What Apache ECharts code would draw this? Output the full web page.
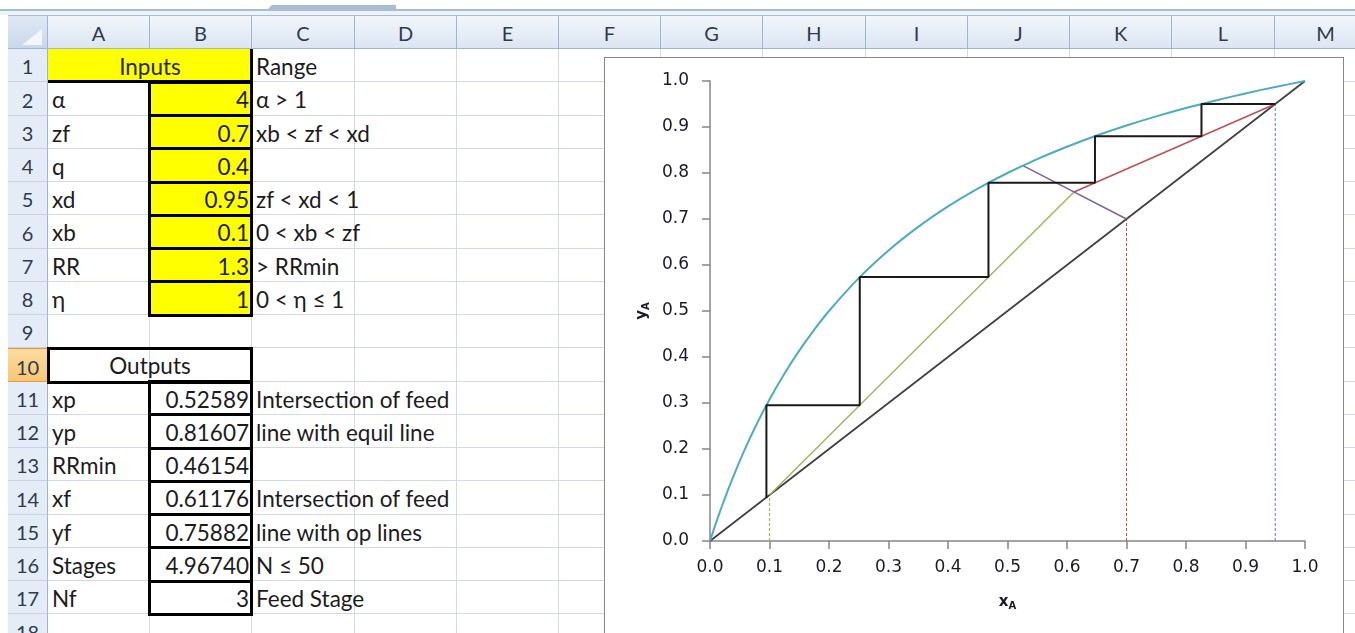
<!DOCTYPE html>
<html><head><meta charset="utf-8">
<script src="https://cdn.jsdelivr.net/npm/echarts@6/dist/echarts.min.js"></script>
<style>
body{margin:0;width:1355px;height:633px;overflow:hidden;background:#fff;position:relative;font-family:Lato,"Noto Sans","DejaVu Sans",sans-serif;}
.abs{position:absolute;box-sizing:border-box;}
.cell{position:absolute;box-sizing:border-box;font-size:22.5px;color:#1c1c1c;white-space:nowrap;line-height:35px;height:33px;}
</style></head><body>
<div id="sheet"></div>
<div class="abs" style="left:604px;top:57px;width:740px;height:640px;border:1px solid #878787;background:#fff;"></div>
<div id="chart" style="position:absolute;left:605px;top:58px;width:738px;height:600px;"></div>
<script>
// ---------- spreadsheet content ----------
const colLetters = ['A','B','C','D','E','F','G','H','I','J','K','L','M'];
const colEdges = [48,150,252,355,457,559,661,763,866,968,1070,1172,1275,1377];
const rowCount = 18;
const labelsA = {2:'α',3:'zf',4:'q',5:'xd',6:'xb',7:'RR',8:'η',11:'xp',12:'yp',13:'RRmin',14:'xf',15:'yf',16:'Stages',17:'Nf'};
const valuesB = {2:'4',3:'0.7',4:'0.4',5:'0.95',6:'0.1',7:'1.3',8:'1',11:'0.52589',12:'0.81607',13:'0.46154',14:'0.61176',15:'0.75882',16:'4.96740',17:'3'};
const notesC = {1:'Range',2:'α > 1',3:'xb < zf < xd',5:'zf < xd < 1',6:'0 < xb < zf',7:'> RRmin',8:'0 < η ≤ 1',11:'Intersection of feed',12:'line with equil line',14:'Intersection of feed',15:'line with op lines',16:'N ≤ 50',17:'Feed Stage'};

// ---------- chart data ----------
const xTickLabels = ['0.0','0.1','0.2','0.3','0.4','0.5','0.6','0.7','0.8','0.9','1.0'];
const yTickLabels = ['0.0','0.1','0.2','0.3','0.4','0.5','0.6','0.7','0.8','0.9','1.0'];
const equilX = [0,0.01,0.02,0.03,0.04,0.06,0.08,0.1,0.125,0.15,0.175,0.2,0.25,0.3,0.35,0.4,0.45,0.5,0.55,0.6,0.65,0.7,0.75,0.8,0.85,0.9,0.95,1];
const equilY = [0,0.0388,0.0755,0.1101,0.1429,0.2034,0.2581,0.3077,0.3636,0.4138,0.4590,0.5,0.5714,0.6316,0.6829,0.7273,0.7660,0.8,0.8302,0.8571,0.8814,0.9032,0.9231,0.9412,0.9577,0.9730,0.9870,1];
const diagX = [0,1];
const diagY = [0,1];
const stairX = [0.95,0.826,0.826,0.647,0.647,0.468,0.468,0.2517,0.2517,0.0948,0.0948];
const stairY = [0.95,0.95,0.880,0.880,0.779,0.779,0.574,0.574,0.295,0.295,0.0933];
const feedX = [0.7,0.52589];
const feedY = [0.7,0.81607];
const stripX = [0.1,0.61176];
const stripY = [0.1,0.75882];
const rectX = [0.61176,0.95];
const rectY = [0.75882,0.95];
const xbDropX = [0.1,0.1];   const xbDropY = [0,0.1];
const zfDropX = [0.7,0.7];   const zfDropY = [0,0.7];
const xdDropX = [0.95,0.95]; const xdDropY = [0,0.95];

// ---------- build sheet ----------
const sheet = document.getElementById('sheet');
const rowTop = n => 49 + (n-1)*33.25;
function add(html){ sheet.insertAdjacentHTML('beforeend', html); }
// top strip
add('<div class="abs" style="left:0;top:9px;width:1355px;height:1.5px;background:#a7bcd7"></div>');
add('<div class="abs" style="left:0;top:10.5px;width:1355px;height:4px;background:#eef3fa"></div>');
add('<div class="abs" style="left:8px;top:14.5px;width:1347px;height:1.5px;background:#a7bcd7"></div>');
add('<div class="abs" style="left:268px;top:5px;width:128px;height:4px;background:#a9bcd6;clip-path:polygon(3% 0,100% 0,100% 100%,0 100%)"></div>');
// gridlines
for(let n=1;n<=rowCount;n++){
  const y = Math.round(rowTop(n+1))-1;
  add(`<div class="abs" style="left:48px;top:${y}px;width:1307px;height:1px;background:#d2d9e6"></div>`);
}
for(let i=1;i<colEdges.length;i++){
  add(`<div class="abs" style="left:${colEdges[i]-1}px;top:49px;width:1px;height:590px;background:#d2d9e6"></div>`);
}
// column headers
add('<div class="abs" style="left:8px;top:16px;width:40px;height:33px;background:linear-gradient(#dfe9f5,#c9d8ec);border-right:1px solid #9eb6ce;border-bottom:1px solid #9eb6ce"></div>');
add('<div class="abs" style="left:22px;top:29px;width:0;height:0;border-left:20px solid transparent;border-bottom:16px solid #f4f6f9"></div>');
colLetters.forEach((c,i)=>{
  const l = colEdges[i], w = colEdges[i+1]-colEdges[i];
  add(`<div class="abs" style="left:${l}px;top:16px;width:${w}px;height:33px;background:linear-gradient(#f2f6fb,#dbe5f2);border-right:1px solid #9eb6ce;border-bottom:1px solid #9eb6ce;text-align:center;font-size:20px;line-height:34px;color:#2f3b4c">${c}</div>`);
});
// row headers
for(let n=1;n<=rowCount;n++){
  const t = Math.round(rowTop(n)), h = Math.round(rowTop(n+1))-t;
  const sel = n===10;
  const bg = sel ? 'linear-gradient(#fbdca0,#f6c673)' : '#e4ecf7';
  const bd = sel ? '#f29536' : '#9eb6ce';
  add(`<div class="abs" style="left:8px;top:${t}px;width:40px;height:${h}px;background:${bg};border-right:1px solid ${bd};border-bottom:1px solid ${sel?'#f29536':'#c5d3e4'};${sel?'border-top:1px solid #f29536;':''}text-align:center;font-size:20px;line-height:${h+2}px;color:#2f3b4c">${n}</div>`);
}
// yellow fills
add(`<div class="abs" style="left:48px;top:49px;width:204px;height:${Math.round(rowTop(2))-49}px;background:#ffff00"></div>`);
for(let n=2;n<=8;n++){
  const t = Math.round(rowTop(n));
  add(`<div class="abs" style="left:150px;top:${t}px;width:102px;height:34px;background:#ffff00"></div>`);
}
// text
add(`<div class="cell" style="left:48px;top:49px;width:204px;text-align:center;color:#1f2a10">Inputs</div>`);
add(`<div class="cell" style="left:48px;top:${rowTop(10)}px;width:204px;text-align:center">Outputs</div>`);
Object.keys(labelsA).forEach(n=>{ add(`<div class="cell" style="left:52px;top:${rowTop(+n)}px;">${labelsA[n]}</div>`); });
Object.keys(valuesB).forEach(n=>{ add(`<div class="cell" style="left:150px;top:${rowTop(+n)}px;width:99px;text-align:right">${valuesB[n]}</div>`); });
Object.keys(notesC).forEach(n=>{ add(`<div class="cell" style="left:256px;top:${rowTop(+n)}px;">${notesC[n]}</div>`); });
// thick borders
add(`<div class="abs" style="left:48px;top:80px;width:204px;height:3px;background:#000"></div>`);
add(`<div class="abs" style="left:249.5px;top:49px;width:3px;height:34px;background:#000"></div>`);
for(let n=2;n<=8;n++){
  const t = rowTop(n)-1.5;
  add(`<div class="abs" style="left:147.5px;top:${t}px;width:105px;height:36.25px;border:3px solid #000"></div>`);
}
add(`<div class="abs" style="left:47px;top:${rowTop(10)-1}px;width:205.5px;height:36.25px;border:3px solid #000"></div>`);
for(let n=11;n<=17;n++){
  const t = rowTop(n)-1.5;
  add(`<div class="abs" style="left:147.5px;top:${t}px;width:105px;height:36.25px;border:3px solid #000"></div>`);
}

// ---------- chart ----------
const zip = (xs,ys)=>xs.map((x,i)=>[x,ys[i]]);
const chart = echarts.init(document.getElementById('chart'), null, {renderer:'canvas'});
const axisCommon = {
  type:'value', min:0, max:1, interval:0.1,
  axisLine:{show:true,onZero:false,lineStyle:{color:'#878787',width:1.5}},
  axisTick:{show:true,inside:false,length:8,lineStyle:{color:'#878787',width:1.5}},
  splitLine:{show:false},
  nameLocation:'middle'
};
function line(xs,ys,color,width,type,z){
  return {type:'line',data:zip(xs,ys),showSymbol:false,symbol:'none',silent:true,z:z,
    lineStyle:{color:color,width:width,type:type||'solid'}};
}
const eq = line(equilX,equilY,'#4bacc6',2,'solid',8); eq.smooth = 0.3;
const nameRich = {a:{fontSize:15,fontWeight:'bold',color:'#1a1a2a',fontFamily:'DejaVu Sans',lineHeight:18},b:{fontSize:10,fontWeight:'bold',color:'#1a1a2a',fontFamily:'DejaVu Sans',lineHeight:18,verticalAlign:'bottom'}};
chart.setOption({
  animation:false,
  grid:{left:105,top:23,width:595,height:460},
  xAxis:Object.assign({},axisCommon,{
    axisLabel:{formatter:(v)=>xTickLabels[Math.round(v*10)],color:'#1a1a2a',fontFamily:'DejaVu Sans',fontSize:17,margin:18},
    name:'{a|x}{b|A}', nameGap:52, nameTextStyle:{rich:nameRich}
  }),
  yAxis:Object.assign({},axisCommon,{
    axisLabel:{formatter:(v)=>yTickLabels[Math.round(v*10)],color:'#1a1a2a',fontFamily:'DejaVu Sans',fontSize:17,margin:21},
    name:'{a|y}{b|A}', nameGap:47, nameTextStyle:{rich:nameRich}
  }),
  series:[
    line(xbDropX,xbDropY,'#9bbb59',1.2,[3,2],2),
    line(zfDropX,zfDropY,'#c0504d',1,[3,2],2),
    line(xdDropX,xdDropY,'#4f81bd',1,[3,2],2),
    line(diagX,diagY,'#404040',1.75,'solid',3),
    line(stripX,stripY,'#9bbb59',1.5,'solid',4),
    line(rectX,rectY,'#c0504d',1.5,'solid',4),
    line(feedX,feedY,'#8064a2',1.5,'solid',5),
    eq,
    line(stairX,stairY,'#1a1a1a',2,'solid',9)
  ]
});
</script>
</body></html>
